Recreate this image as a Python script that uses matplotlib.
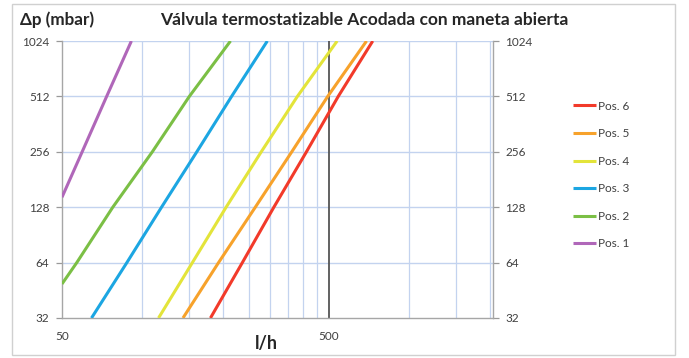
import matplotlib
matplotlib.use("Agg")
import matplotlib.pyplot as plt
from matplotlib.patches import Rectangle

plt.rcParams['font.family'] = ['Lato', 'DejaVu Sans']

# ---- data (flow l/h, pressure drop mbar) ----
pos1_x = [50, 59.5, 73.5, 91]
pos1_y = [145, 256, 512, 1024]
pos2_x = [50, 56.8, 77.5, 109, 150, 214]
pos2_y = [49, 64, 128, 256, 512, 1024]
pos3_x = [64.5, 87.5, 118, 160, 216, 294]
pos3_y = [32, 64, 128, 256, 512, 1024]
pos4_x = [115, 154, 206, 279, 381, 537]
pos4_y = [32, 64, 128, 256, 512, 1024]
pos5_x = [142, 193, 265, 363, 495, 692]
pos5_y = [32, 64, 128, 256, 512, 1024]
pos6_x = [180, 237, 311, 412, 542, 730]
pos6_y = [32, 64, 128, 256, 512, 1024]

series_labels = ["Pos. 6", "Pos. 5", "Pos. 4", "Pos. 3", "Pos. 2", "Pos. 1"]
y_ticks = [32, 64, 128, 256, 512, 1024]
x_tick_vals = [50, 500]
x_grid_vals = [100, 150, 200, 250, 300, 350, 400, 450, 1000, 1500, 2000]

title = "Válvula termostatizable Acodada con maneta abierta"
ylabel = "Δp (mbar)"
xlabel = "l/h"

colors = ["#f23a2a", "#f7a22b", "#e3e43a", "#1ca6e2", "#7bbf45", "#b067b9"]

W, H = 689, 358
fig = plt.figure(figsize=(W / 100, H / 100), dpi=100)

# outer border
fig.patches.append(Rectangle((12 / W, 3 / H), (675 - 12) / W, (354 - 3) / H,
                             transform=fig.transFigure, fill=False,
                             edgecolor="#d0d0d0", linewidth=1.0))

L, R, T, B = 62, 493, 41, 318
ax = fig.add_axes([L / W, 1 - B / H, (R - L) / W, (B - T) / H])
ax.set_xscale('log')
ax.set_yscale('log', base=2)
ax.set_xlim(50, 2060)
ax.set_ylim(32, 1024)

# grid
for v in x_grid_vals:
    ax.axvline(v, color="#c3d3ef", lw=0.9, zorder=1)
for v in y_ticks[1:]:
    ax.axhline(v, color="#c3d3ef", lw=1.0, zorder=1)
ax.axvline(500, color="#555555", lw=1.3, zorder=1)

data = [(pos6_x, pos6_y), (pos5_x, pos5_y), (pos4_x, pos4_y),
        (pos3_x, pos3_y), (pos2_x, pos2_y), (pos1_x, pos1_y)]
for (xs, ys), c, lab in zip(data, colors, series_labels):
    ax.plot(xs, ys, color=c, lw=2.2, label=lab, zorder=3,
            solid_capstyle='butt', solid_joinstyle='round')

ax.set_yticks(y_ticks)
ax.set_yticklabels([str(v) for v in y_ticks])
ax.yaxis.set_minor_locator(matplotlib.ticker.NullLocator())
ax.set_xticks(x_tick_vals)
ax.set_xticklabels([str(v) for v in x_tick_vals])
ax.xaxis.set_minor_locator(matplotlib.ticker.NullLocator())

ax.tick_params(axis='y', which='major', left=True, right=True, labelleft=True,
               labelright=True, direction='out', length=4, width=0.9,
               color="#999999", labelsize=8.5, labelcolor="#404040", pad=5)
ax.tick_params(axis='x', which='major', bottom=True, direction='out', length=0,
               labelsize=8.5, labelcolor="#404040", pad=9)

for s in ['left', 'right', 'bottom']:
    ax.spines[s].set_color("#a6a6a6")
    ax.spines[s].set_linewidth(1.0)
ax.spines['top'].set_visible(False)

fig.text(20 / W, 1 - 20 / H, ylabel, fontsize=12.3, fontweight='bold',
         color="#262626", ha='left', va='center')
fig.text(364 / W, 1 - 20 / H, title, fontsize=12.5, fontweight='bold',
         color="#262626", ha='center', va='center')
fig.text(266 / W, 1 - 343 / H, xlabel, fontsize=13, fontweight='bold',
         color="#262626", ha='center', va='center')

leg = ax.legend(loc='upper left', bbox_to_anchor=(562 / W, 1 - 90 / H),
                bbox_transform=fig.transFigure, frameon=False,
                fontsize=8.5, handlelength=2.0, handletextpad=0.12,
                labelspacing=1.4)
for t in leg.get_texts():
    t.set_color("#404040")

fig.savefig("out.png", dpi=100)
